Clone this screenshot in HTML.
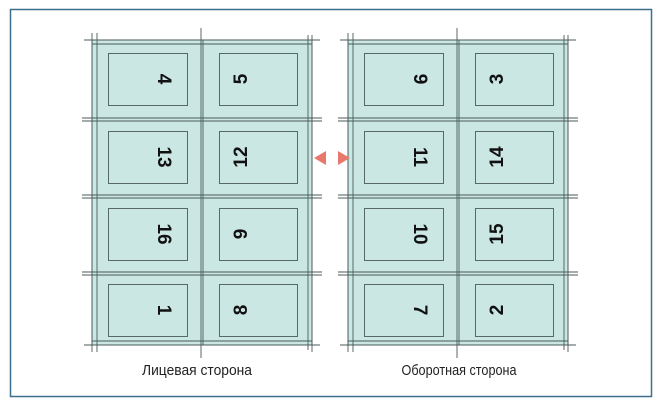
<!DOCTYPE html>
<html><head><meta charset="utf-8"><style>
html,body{margin:0;padding:0;background:#fff;}
svg{display:block;}
text{font-family:"Liberation Sans",sans-serif;}
.n{font-weight:bold;font-size:19px;fill:#111;}
</style></head><body>
<svg width="659" height="404" viewBox="0 0 659 404" xmlns="http://www.w3.org/2000/svg">
<rect x="10.5" y="9.5" width="641" height="387" fill="#fff" stroke="#3d6f8c" stroke-width="1.5"/>
<defs>
<g id="sheet">
  <rect x="92" y="40" width="220" height="305" fill="#cae7e4" stroke="#5d6f6f" stroke-width="1"/>
  <g stroke="#4a5a5a" stroke-width="0.9" fill="none">
    <line x1="92" y1="33" x2="92" y2="352"/>
    <line x1="97" y1="33" x2="97" y2="352"/>
    <line x1="308" y1="35" x2="308" y2="350"/>
    <line x1="312" y1="35" x2="312" y2="352"/>
    <line x1="201" y1="28" x2="201" y2="358"/>
    <line x1="203" y1="40" x2="203" y2="345"/>
    <line x1="84" y1="40" x2="320" y2="40"/>
    <line x1="92" y1="44" x2="312" y2="44"/>
    <line x1="84" y1="345" x2="320" y2="345"/>
    <line x1="92" y1="341" x2="312" y2="341"/>
    <line x1="82" y1="118" x2="322" y2="118"/>
    <line x1="82" y1="121" x2="322" y2="121"/>
    <line x1="82" y1="195" x2="322" y2="195"/>
    <line x1="82" y1="198" x2="322" y2="198"/>
    <line x1="82" y1="272" x2="322" y2="272"/>
    <line x1="82" y1="275" x2="322" y2="275"/>
    <rect x="108.5" y="53.5" width="79" height="52"/>
    <rect x="219.5" y="53.5" width="78" height="52"/>
    <rect x="108.5" y="131.5" width="79" height="52"/>
    <rect x="219.5" y="131.5" width="78" height="52"/>
    <rect x="108.5" y="208.5" width="79" height="52"/>
    <rect x="219.5" y="208.5" width="78" height="52"/>
    <rect x="108.5" y="284.5" width="79" height="52"/>
    <rect x="219.5" y="284.5" width="78" height="52"/>
  </g>
</g>
</defs>
<use href="#sheet"/>
<use href="#sheet" x="256"/>
<polygon points="314,158 326,151 326,165" fill="#e8786c"/>
<polygon points="350,158 338,151 338,165" fill="#e8786c"/>
<g class="n" text-anchor="middle">
  <text transform="translate(165,79) rotate(90)" dy="7">4</text>
  <text transform="translate(240,79) rotate(-90)" dy="7">5</text>
  <text transform="translate(165,157) rotate(90)" dy="7">13</text>
  <text transform="translate(240,157) rotate(-90)" dy="7">12</text>
  <text transform="translate(165,234) rotate(90)" dy="7">16</text>
  <text transform="translate(240,234) rotate(-90)" dy="7">9</text>
  <text transform="translate(165,310) rotate(90)" dy="7">1</text>
  <text transform="translate(240,310) rotate(-90)" dy="7">8</text>
  <text transform="translate(421,79) rotate(90)" dy="7">9</text>
  <text transform="translate(496,79) rotate(-90)" dy="7">3</text>
  <text transform="translate(421,157) rotate(90)" dy="7">11</text>
  <text transform="translate(496,157) rotate(-90)" dy="7">14</text>
  <text transform="translate(421,234) rotate(90)" dy="7">10</text>
  <text transform="translate(496,234) rotate(-90)" dy="7">15</text>
  <text transform="translate(421,310) rotate(90)" dy="7">7</text>
  <text transform="translate(496,310) rotate(-90)" dy="7">2</text>
</g>
<text x="197" y="375" font-size="15" text-anchor="middle" fill="#222" textLength="110" lengthAdjust="spacingAndGlyphs">Лицевая сторона</text>
<text x="459" y="375" font-size="15" text-anchor="middle" fill="#222" textLength="115" lengthAdjust="spacingAndGlyphs">Оборотная сторона</text>
</svg>
</body></html>
